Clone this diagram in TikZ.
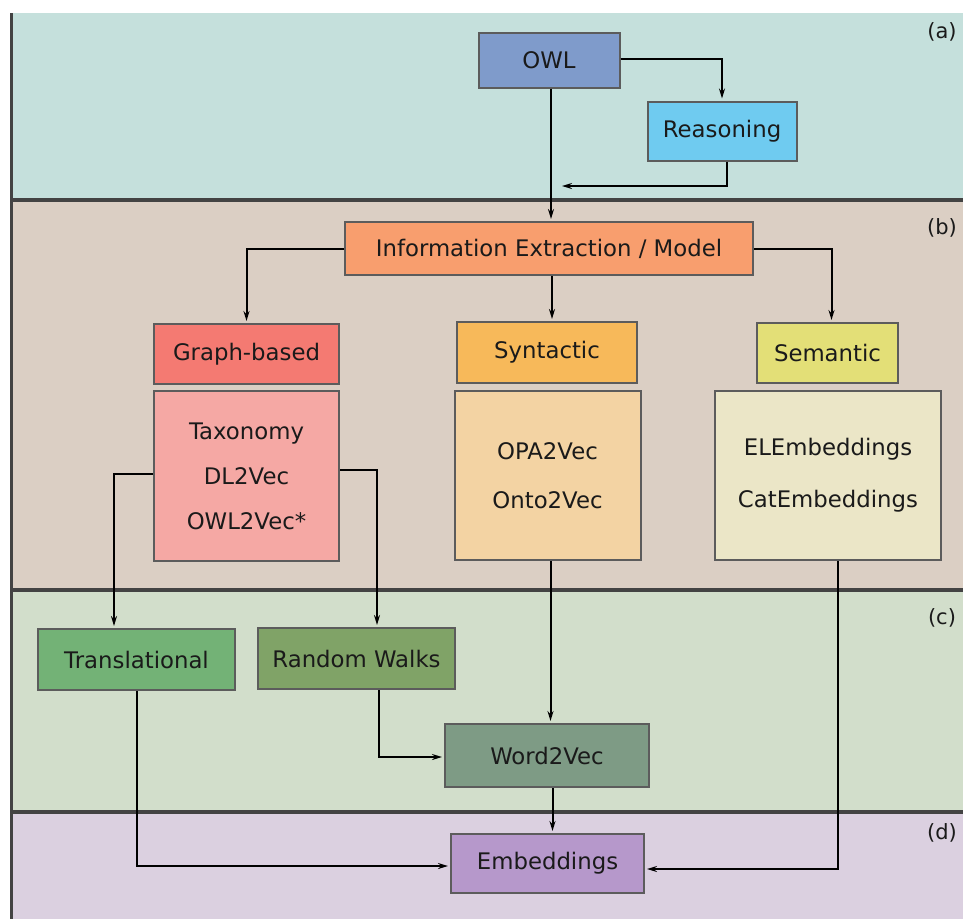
\documentclass[tikz,border=0pt]{standalone}
\usepackage{fontspec}
\setmainfont{DejaVu Sans}
\usetikzlibrary{arrows.meta}
\definecolor{bandA}{HTML}{C5E0DC}
\definecolor{bandB}{HTML}{DBCFC4}
\definecolor{bandC}{HTML}{D2DECB}
\definecolor{bandD}{HTML}{DBD0E0}
\definecolor{cOWL}{HTML}{7F9BCB}
\definecolor{cRea}{HTML}{6FCBF0}
\definecolor{cInfo}{HTML}{F89E6E}
\definecolor{cGraph}{HTML}{F47A72}
\definecolor{cTax}{HTML}{F5A8A4}
\definecolor{cSyn}{HTML}{F7B95A}
\definecolor{cOPA}{HTML}{F3D3A3}
\definecolor{cSem}{HTML}{E3DF77}
\definecolor{cEL}{HTML}{EBE6C7}
\definecolor{cTrans}{HTML}{73B276}
\definecolor{cRW}{HTML}{80A367}
\definecolor{cW2V}{HTML}{7E9B85}
\definecolor{cEmb}{HTML}{B698CB}
\definecolor{boxline}{HTML}{5C5C5C}
\definecolor{sepline}{HTML}{434343}
\definecolor{txt}{HTML}{1A1A1A}
\begin{document}
\begin{tikzpicture}[x=1pt,y=-1pt,
  box/.style={draw=boxline,line width=2pt,inner sep=0pt,text=txt,
    font=\fontsize{22.8}{27}\selectfont},
  arr/.style={draw=black,line width=2pt,-{Stealth[length=10pt,width=6pt]},shorten >=2pt},
  sep/.style={draw=sepline,line width=4pt},
  lab/.style={text=txt,font=\fontsize{21}{25}\selectfont,inner sep=0pt}]
\useasboundingbox (0,0) rectangle (963,919);
% bands
\fill[bandA] (11,13) rectangle (963,200);
\fill[bandB] (11,200) rectangle (963,590);
\fill[bandC] (11,590) rectangle (963,812);
\fill[bandD] (11,812) rectangle (963,919);
\draw[sep] (11,200) -- (963,200);
\draw[sep] (11,590) -- (963,590);
\draw[sep] (11,812) -- (963,812);
\draw[draw=sepline,line width=3pt] (11,13) -- (11,919);
% labels
\node[lab] (la) at (942,32) {(a)};
\node[lab] (lb) at (942,228) {(b)};
\node[lab] (lc) at (942,618) {(c)};
\node[lab] (ld) at (942,833) {(d)};
% nodes
\node[box,fill=cOWL,minimum width=141,minimum height=55] (OWL) at (549,60) {OWL};
\node[box,fill=cRea,minimum width=149,minimum height=59] (Rea) at (722,131) {Reasoning};
\node[box,fill=cInfo,minimum width=408,minimum height=53] (Info) at (549,248.5) {Information Extraction / Model};
\node[box,fill=cGraph,minimum width=185,minimum height=60] (Graph) at (246.5,354) {Graph-based};
\node[box,fill=cTax,minimum width=185,minimum height=170,align=center,
  font=\fontsize{22.8}{45}\selectfont] (Tax) at (246.5,476) {Taxonomy\\DL2Vec\\OWL2Vec*};
\node[box,fill=cSyn,minimum width=180,minimum height=61] (Syn) at (547,352.5) {Syntactic};
\node[box,fill=cOPA,minimum width=186,minimum height=169,align=center,
  font=\fontsize{22.8}{49}\selectfont] (OPA) at (547.5,475.5) {OPA2Vec\\Onto2Vec};
\node[box,fill=cSem,minimum width=141,minimum height=60] (Sem) at (827.5,353) {Semantic};
\node[box,fill=cEL,minimum width=226,minimum height=169,align=center,
  font=\fontsize{22.8}{52}\selectfont] (EL) at (828,475.5) {ELEmbeddings\\CatEmbeddings};
\node[box,fill=cTrans,minimum width=197,minimum height=61] (Trans) at (136.5,659.5) {Translational};
\node[box,fill=cRW,minimum width=197,minimum height=61] (RW) at (356.5,658.5) {Random Walks};
\node[box,fill=cW2V,minimum width=204,minimum height=63] (W2V) at (547,755.5) {Word2Vec};
\node[box,fill=cEmb,minimum width=193,minimum height=59] (Emb) at (547.5,863.5) {Embeddings};
\coordinate (rj) at (560,186);
% connectors
\draw[arr] ([yshift=1pt]OWL.east) -| (Rea.north);
\draw[arr] ([xshift=4.5pt]Rea.south) |- (rj);
\draw[arr] ([xshift=2pt]OWL.south) -- ([xshift=2pt]OWL.south |- Info.north);
\draw[arr] (Info.west) -| (Graph.north);
\draw[arr] ([xshift=3pt]Info.south) -- ([xshift=3pt]Info.south |- Syn.north);
\draw[arr] (Info.east) -| ([xshift=4pt]Sem.north);
\draw[arr] ([yshift=2pt]Tax.west) -| ([xshift=-22.5pt]Trans.north);
\draw[arr] ([yshift=6pt]Tax.east) -| ([xshift=20.5pt]RW.north);
\draw[arr] ([xshift=3pt]OPA.south) -- ([xshift=3pt]OPA.south |- W2V.north);
\draw[arr] ([xshift=10pt]EL.south) |- ([yshift=-5.5pt]Emb.east);
\draw[arr] (Trans.south) |- ([yshift=-2.5pt]Emb.west);
\draw[arr] ([xshift=22pt]RW.south) |- ([yshift=-1.5pt]W2V.west);
\draw[arr] ([xshift=5.5pt]W2V.south) -- ([xshift=5.5pt]W2V.south |- Emb.north);
\end{tikzpicture}
\end{document}
